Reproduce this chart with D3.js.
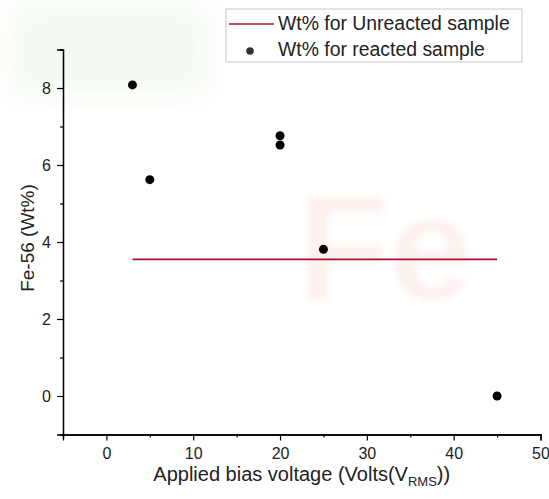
<!DOCTYPE html>
<html>
<head>
<meta charset="utf-8">
<script src="https://cdn.jsdelivr.net/npm/d3@7"></script>
<style>
  body { margin: 0; background: #fff; }
  svg { font-family: "Liberation Sans", Arial, sans-serif; }
</style>
</head>
<body>
<div id="chart"></div>
<script>
// reacted sample points
const voltages = [3, 5, 20, 20, 25, 45];
const wtReacted = [8.08, 5.62, 6.76, 6.52, 3.81, 0];
// unreacted reference level
const unreactedX = [3, 45];
const unreactedWt = [3.55, 3.55];
const xTicks = [0, 10, 20, 30, 40, 50];
const yTicks = [0, 2, 4, 6, 8];
const legendLabels = ['Wt% for Unreacted sample', 'Wt% for reacted sample'];

const width = 549, height = 499;
const svg = d3.select('#chart').append('svg')
    .attr('width', width)
    .attr('height', height);

const x = d3.scaleLinear().domain([-5, 50]).range([63, 540.5]);
const y = d3.scaleLinear().domain([-1, 9]).range([434.5, 49.5]);

// faint background tint + watermark
const defs = svg.append('defs');
defs.append('filter').attr('id', 'blur')
    .attr('x', '-50%').attr('y', '-50%').attr('width', '200%').attr('height', '200%')
    .append('feGaussianBlur').attr('stdDeviation', 14);
defs.append('filter').attr('id', 'soft')
    .attr('x', '-20%').attr('y', '-20%').attr('width', '140%').attr('height', '140%')
    .append('feGaussianBlur').attr('stdDeviation', 3);
svg.append('rect')
    .attr('x', 10).attr('y', 5).attr('width', 200).attr('height', 90)
    .attr('fill', '#dff0d8').attr('opacity', 0.35)
    .attr('filter', 'url(#blur)');
svg.append('text')
    .attr('x', 385).attr('y', 300)
    .attr('text-anchor', 'middle')
    .style('font-size', '150px')
    .style('font-weight', 'bold')
    .attr('fill', '#f3c2ae')
    .attr('opacity', 0.2)
    .attr('filter', 'url(#soft)')
    .text('Fe');

// axes
const xAxis = d3.axisBottom(x).tickValues(xTicks).tickSize(6).tickPadding(7);
const xMinor = d3.axisBottom(x).tickValues(d3.range(-5, 51, 5).filter(v => !xTicks.includes(v))).tickSize(3).tickFormat('');
const yAxis = d3.axisLeft(y).tickValues(yTicks).tickSize(6).tickPadding(6);
const yMinor = d3.axisLeft(y).tickValues([-1, 1, 3, 5, 7, 9]).tickSize(3).tickFormat('');

svg.append('g').attr('transform', `translate(0,${y(-1)})`).call(xMinor);
svg.append('g').attr('transform', `translate(0,${y(-1)})`).call(xAxis);
svg.append('g').attr('transform', `translate(${x(-5)},0)`).call(yMinor);
svg.append('g').attr('transform', `translate(${x(-5)},0)`).call(yAxis);

svg.selectAll('.domain').attr('stroke', '#000').attr('stroke-width', 1.3);
svg.selectAll('.tick line').attr('stroke', '#000').attr('stroke-width', 1.2);
svg.selectAll('.tick text').style('font-size', '16px').attr('fill', '#222');

// unreacted line
svg.append('path')
    .datum(unreactedX.map((v, i) => [v, unreactedWt[i]]))
    .attr('fill', 'none')
    .attr('stroke', '#a8102e')
    .attr('stroke-width', 1.6)
    .attr('d', d3.line().x(d => x(d[0])).y(d => y(d[1])));

// reacted points
svg.selectAll('circle.pt')
    .data(voltages.map((v, i) => [v, wtReacted[i]]))
    .enter().append('circle')
    .attr('class', 'pt')
    .attr('cx', d => x(d[0]))
    .attr('cy', d => y(d[1]))
    .attr('r', 4.5)
    .attr('fill', '#000');

// axis labels
svg.append('text')
    .attr('transform', `translate(34,238) rotate(-90)`)
    .attr('text-anchor', 'middle')
    .style('font-size', '19px')
    .attr('fill', '#222')
    .text('Fe-56 (Wt%)');

const xl = svg.append('text')
    .attr('x', (x(-5) + x(50)) / 2).attr('y', 481)
    .attr('text-anchor', 'middle')
    .style('font-size', '20px')
    .attr('fill', '#222');
xl.append('tspan').text('Applied bias voltage (Volts(V');
xl.append('tspan').attr('dy', 5).style('font-size', '13px').text('RMS');
xl.append('tspan').attr('dy', -5).text('))');

// legend
const lg = svg.append('g').attr('transform', 'translate(226,9)');
lg.append('rect')
    .attr('width', 296).attr('height', 53)
    .attr('fill', '#fff')
    .attr('stroke', '#c8c8c8');
lg.append('line')
    .attr('x1', 3).attr('x2', 48).attr('y1', 15).attr('y2', 15)
    .attr('stroke', '#a8102e').attr('stroke-width', 1.6);
lg.append('circle').attr('cx', 24).attr('cy', 42).attr('r', 3.8).attr('fill', '#333');
lg.selectAll('text.lbl')
    .data(legendLabels)
    .enter().append('text')
    .attr('x', 52)
    .attr('y', (d, i) => 21 + i * 26)
    .style('font-size', '19.4px')
    .attr('fill', '#222')
    .text(d => d);
</script>
</body>
</html>
